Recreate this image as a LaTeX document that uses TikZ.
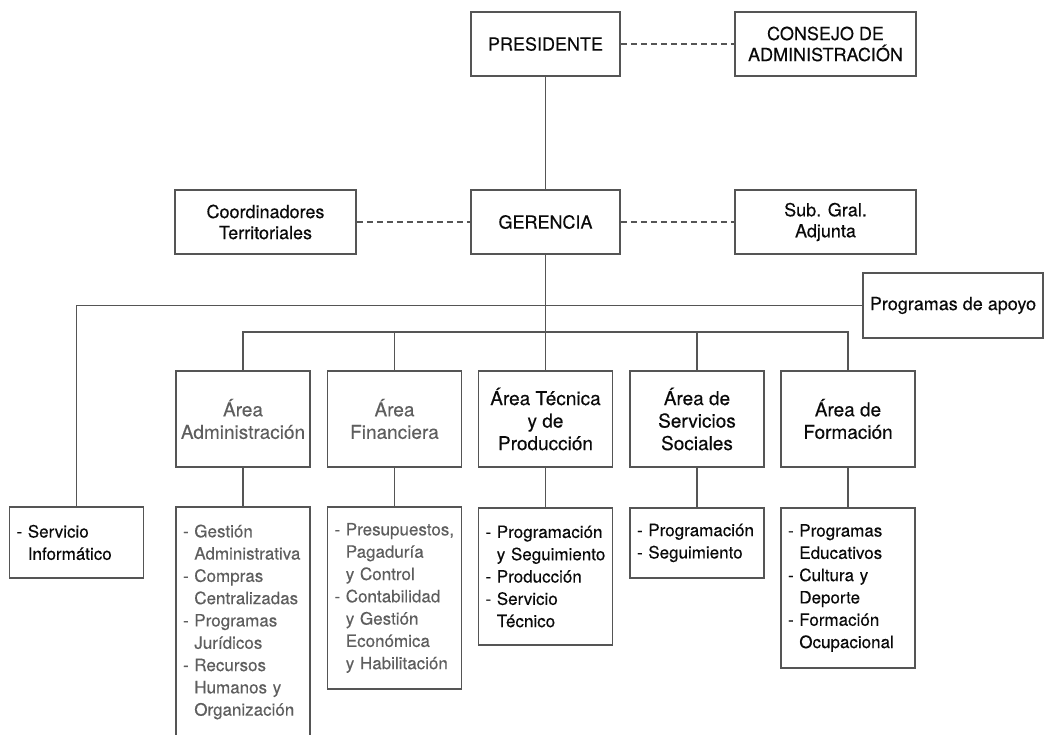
\documentclass[tikz,border=0pt]{standalone}
\usepackage{fontspec}
\setmainfont{TeX Gyre Heros}[FakeBold=0.3]
\usepackage{tikz}
\definecolor{linea}{HTML}{555555}
\definecolor{textogris}{HTML}{5E5E5E}
\definecolor{textonegro}{HTML}{0A0A0A}
\def\ind{\phantom{- }}

\begin{document}
\begin{tikzpicture}[x=1pt,y=-1pt]

    \tikzset{caja/.style={rectangle, draw=linea, line width=1.9pt, inner sep=0pt, align=center, text=textonegro, font=\fontsize{18}{21}\selectfont}}
    \tikzstyle{area}=[caja, minimum width=134pt, minimum height=96pt, font=\fontsize{19}{22.5}\selectfont]
    \tikzstyle{lista}=[caja, anchor=north, inner xsep=7pt, text width=120pt, align=left, font=\fontsize{17}{22.3}\selectfont]
    \tikzstyle{gris}=[text=textogris]
    \tikzstyle{conector}=[draw=linea, line width=1.9pt]
    \tikzstyle{punteado}=[conector, dash pattern=on 6pt off 4pt]

    \clip (0,0) rectangle (1044,734);

    % TOP LEVEL
    \node(pres) at (545.5,44) [caja, minimum width=149pt, minimum height=64pt] {PRESIDENTE};
    \node(consejo) at (825.5,44) [caja, minimum width=181pt, minimum height=64pt] {CONSEJO DE\\ADMINISTRACIÓN};

    % GERENCIA
    \node(ger) at (545.5,222) [caja, minimum width=149pt, minimum height=64pt] {GERENCIA};
    \node(coord) at (265.5,222) [caja, minimum width=181pt, minimum height=64pt] {Coordinadores\\Territoriales};
    \node(subg) at (825.5,222) [caja, minimum width=181pt, minimum height=64pt] {Sub. Gral.\\Adjunta};

    % APOYO
    \node(apoyo) at (953,305.5) [caja, minimum width=180pt, minimum height=65pt] {Programas de apoyo};
    \node(serv) at (76.5,506) [lista, minimum height=71pt] {- Servicio\\\ind Informático};

    % AREAS
    \node(adm) at (243,419) [area, gris] {Área\\Administración};
    \node(fin) at (394.5,419) [area, gris] {Área\\Financiera};
    \node(tec) at (545.5,419) [area] {Área Técnica\\y de\\Producción};
    \node(soc) at (697,419) [area] {Área de\\Servicios\\Sociales};
    \node(form) at (848,419) [area] {Área de\\Formación};

    % LISTS
    \node(adm2) at (243,506) [lista, gris, minimum height=230pt] {- Gestión\\\ind Administrativa\\- Compras\\\ind Centralizadas\\- Programas\\\ind Jurídicos\\- Recursos\\\ind Humanos y\\\ind Organización};
    \node(fin2) at (394.5,506) [lista, gris, minimum height=182pt] {- Presupuestos,\\\ind Pagaduría\\\ind y Control\\- Contabilidad\\\ind y Gestión\\\ind Económica\\\ind y Habilitación};
    \node(tec2) at (545.5,507) [lista, minimum height=137pt] {- Programación\\\ind y Seguimiento\\- Producción\\- Servicio\\\ind Técnico};
    \node(soc2) at (697,507) [lista, minimum height=70pt] {- Programación\\- Seguimiento};
    \node(form2) at (848,507) [lista, minimum height=160pt] {- Programas\\\ind Educativos\\- Cultura y\\\ind Deporte\\- Formación\\\ind Ocupacional};

    % CONNECTIONS
    \draw[conector] (pres) -- (ger);
    \draw[punteado] (pres) -- (consejo);
    \draw[punteado] (coord) -- (ger);
    \draw[punteado] (ger) -- (subg);

    \draw[conector] (ger) -- (tec);
    \draw[conector] (apoyo.west) -| (serv.north);

    \coordinate (bus) at (545.5,332);
    \draw[conector] (adm.north) |- (bus) -| (form.north);
    \draw[conector] (fin.north) -- (fin.north |- bus);
    \draw[conector] (soc.north) -- (soc.north |- bus);

    \draw[conector] (adm) -- (adm2);
    \draw[conector] (fin) -- (fin2);
    \draw[conector] (tec) -- (tec2);
    \draw[conector] (soc) -- (soc2);
    \draw[conector] (form) -- (form2);

\end{tikzpicture}
\end{document}
